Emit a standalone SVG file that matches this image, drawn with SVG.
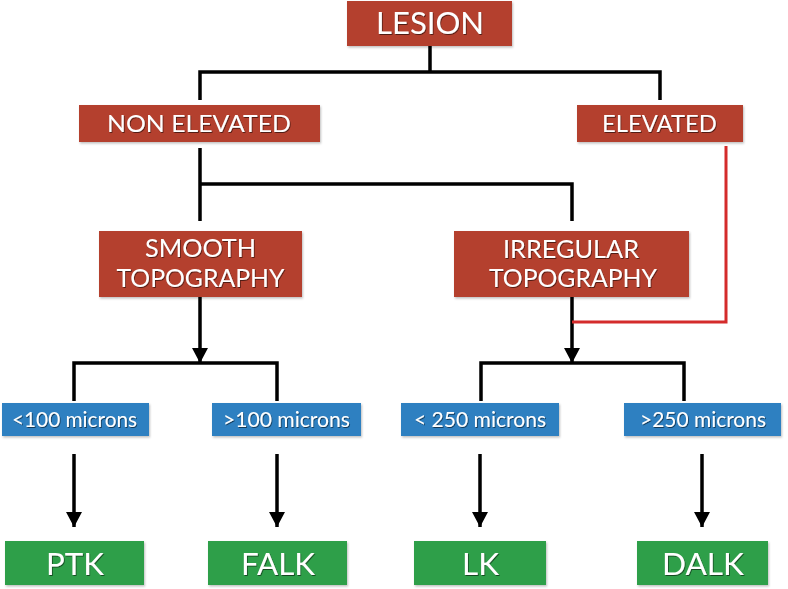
<svg xmlns="http://www.w3.org/2000/svg" width="788" height="589" viewBox="0 0 788 589">
<defs>
<style>
.red{fill:#b4412f}
.blue{fill:#2f80c1}
.green{fill:#2f9f48}
.box{filter:url(#bs)}
text{fill:#ffffff;font-family:Lato,"Open Sans","DejaVu Sans",sans-serif;text-anchor:middle;filter:url(#ts)}
.t1{font-size:30px}
.t2{font-size:24px}
.t3{font-size:25px}
.t4{font-size:21px}
.t5{font-size:31px}
.ln{fill:none;stroke:#000;stroke-width:3.5;stroke-linejoin:miter;stroke-linecap:butt}
.rl{fill:none;stroke:#d42b2b;stroke-width:3}
</style>
<filter id="bs" x="-5%" y="-10%" width="115%" height="130%">
<feDropShadow dx="1" dy="1.5" stdDeviation="1" flood-color="#000" flood-opacity="0.25"/>
</filter>
<filter id="ts" x="-5%" y="-20%" width="115%" height="150%">
<feDropShadow dx="0.8" dy="1" stdDeviation="0.6" flood-color="#000" flood-opacity="0.55"/>
</filter>
<marker id="ah" viewBox="0 0 15 16" refX="15" refY="8" markerWidth="15" markerHeight="16" markerUnits="userSpaceOnUse" orient="auto">
<path d="M0,0 L15,8 L0,16 z" fill="#000"/>
</marker>
</defs>
<rect width="788" height="589" fill="#ffffff"/>
<g id="connectors">
<path class="ln" d="M430,46 V72 M200,100 V72 H660 V100"/>
<path class="ln" d="M200,148 V221 M200,184 H572 V221"/>
<path class="ln" d="M200,297 V363" marker-end="url(#ah)"/>
<path class="ln" d="M74,401 V363 H277 V401"/>
<path class="ln" d="M572,297 V363" marker-end="url(#ah)"/>
<path class="ln" d="M481,401 V363 H684 V401"/>
<path class="rl" d="M726,146 V322 H572"/>
<path class="ln" d="M74,454 V527" marker-end="url(#ah)"/>
<path class="ln" d="M277,454 V527" marker-end="url(#ah)"/>
<path class="ln" d="M480,454 V527" marker-end="url(#ah)"/>
<path class="ln" d="M702,454 V527" marker-end="url(#ah)"/>
</g>
<g id="lesion"><rect class="red box" x="347" y="1" width="165" height="45"/><text class="t1" x="430" y="34" textLength="108" lengthAdjust="spacingAndGlyphs">LESION</text></g>
<g id="non-elevated"><rect class="red box" x="79" y="105" width="241" height="37"/><text class="t2" x="199" y="132" textLength="184" lengthAdjust="spacingAndGlyphs">NON ELEVATED</text></g>
<g id="elevated"><rect class="red box" x="577" y="105" width="166" height="37"/><text class="t2" x="659.5" y="132" textLength="115" lengthAdjust="spacingAndGlyphs">ELEVATED</text></g>
<g id="smooth"><rect class="red box" x="99" y="231" width="203" height="66"/><text class="t3" x="200.5" y="257" textLength="111" lengthAdjust="spacingAndGlyphs">SMOOTH</text><text class="t3" x="200.5" y="287" textLength="168" lengthAdjust="spacingAndGlyphs">TOPOGRAPHY</text></g>
<g id="irregular"><rect class="red box" x="454" y="231" width="235" height="66"/><text class="t3" x="571" y="258" textLength="136" lengthAdjust="spacingAndGlyphs">IRREGULAR</text><text class="t3" x="573" y="287" textLength="168" lengthAdjust="spacingAndGlyphs">TOPOGRAPHY</text></g>
<g id="lt100"><rect class="blue box" x="2" y="403" width="147" height="33"/><text class="t4" x="74.5" y="427" textLength="125" lengthAdjust="spacingAndGlyphs">&lt;100 microns</text></g>
<g id="gt100"><rect class="blue box" x="212" y="403" width="149" height="33"/><text class="t4" x="286.5" y="427" textLength="127" lengthAdjust="spacingAndGlyphs">&gt;100 microns</text></g>
<g id="lt250"><rect class="blue box" x="401" y="403" width="158" height="33"/><text class="t4" x="480" y="427" textLength="132" lengthAdjust="spacingAndGlyphs">&lt; 250 microns</text></g>
<g id="gt250"><rect class="blue box" x="624" y="403" width="157" height="33"/><text class="t4" x="703" y="427" textLength="126" lengthAdjust="spacingAndGlyphs">&gt;250 microns</text></g>
<g id="ptk"><rect class="green box" x="5" y="541" width="139" height="44"/><text class="t5" x="75" y="575" textLength="58" lengthAdjust="spacingAndGlyphs">PTK</text></g>
<g id="falk"><rect class="green box" x="208" y="541" width="139" height="44"/><text class="t5" x="278" y="575" textLength="74" lengthAdjust="spacingAndGlyphs">FALK</text></g>
<g id="lk"><rect class="green box" x="414" y="541" width="132" height="44"/><text class="t5" x="480.5" y="575" textLength="37" lengthAdjust="spacingAndGlyphs">LK</text></g>
<g id="dalk"><rect class="green box" x="637" y="541" width="131" height="44"/><text class="t5" x="703" y="575" textLength="82" lengthAdjust="spacingAndGlyphs">DALK</text></g>
</svg>
